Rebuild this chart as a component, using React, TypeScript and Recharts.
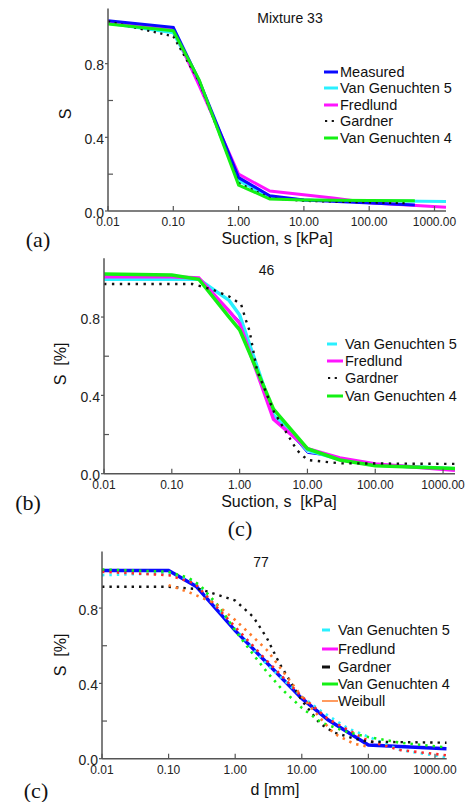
import React from 'react'
import { Line, LineChart, XAxis, YAxis } from 'recharts'

const X_TICKS = [0.01, 0.1, 1, 10, 100, 1000]
const Y_TICKS = [0, 0.2, 0.4, 0.6, 0.8]
const Y_LABELED = [0, 0.4, 0.8]

// (a) Mixture 33 — [suction kPa, S]
const aMeasured = [[0.01, 1.033], [0.1, 0.997], [0.25, 0.705], [1, 0.181], [3, 0.083], [10, 0.06], [500, 0.033]]
const aVG5 = [[0.01, 1.02], [0.1, 0.968], [0.25, 0.7], [1, 0.165], [3, 0.075], [10, 0.06], [100, 0.055], [1500, 0.052]]
const aFredlund = [[0.01, 1.028], [0.1, 0.987], [0.25, 0.68], [1, 0.2], [3, 0.108], [28, 0.07], [100, 0.045], [1500, 0.021]]
const aGardner = [[0.01, 1.03], [0.1, 0.948], [0.25, 0.7], [1, 0.152], [3, 0.07], [10, 0.055], [100, 0.047], [400, 0.042]]
const aVG4 = [[0.01, 1.015], [0.1, 0.979], [0.25, 0.711], [1, 0.141], [3, 0.065], [10, 0.06], [100, 0.057], [500, 0.056]]

// (b) 46
const bMeasured = [[0.01, 1.0], [0.25, 1.0], [1, 0.78], [3.16, 0.3], [10, 0.104], [20, 0.09], [100, 0.045], [1500, 0.02]]
const bVG5 = [[0.01, 0.993], [0.1, 0.993], [0.25, 0.993], [0.7, 0.885], [1, 0.81], [3.16, 0.3], [10, 0.12], [30, 0.072], [100, 0.045], [1500, 0.025]]
const bFredlund = [[0.01, 1.006], [0.1, 1.006], [0.25, 1.0], [0.7, 0.83], [1, 0.768], [3.16, 0.278], [10, 0.128], [30, 0.08], [100, 0.05], [1500, 0.017]]
const bGardner = [[0.01, 0.969], [0.2, 0.969], [0.4, 0.94], [0.7, 0.905], [1.05, 0.865], [1.25, 0.78], [1.4, 0.73], [1.8, 0.53], [3.2, 0.317], [7, 0.12], [10, 0.07], [30, 0.053], [1500, 0.05]]
const bVG4 = [[0.01, 1.02], [0.1, 1.015], [0.25, 0.993], [0.7, 0.8], [1, 0.735], [3.16, 0.33], [10, 0.128], [30, 0.07], [100, 0.041], [1500, 0.026]]

// (c) 77 — [d mm, S]
const cMeasured = [[0.01, 1.0], [0.1, 1.0], [0.26, 0.915], [1, 0.68], [3.16, 0.5], [10, 0.32], [25, 0.205], [100, 0.073], [1500, 0.053]]
const cVG5 = [[0.01, 0.975], [0.1, 0.985], [0.25, 0.94], [1, 0.69], [3, 0.5], [10, 0.33], [20, 0.25], [50, 0.16], [100, 0.117], [300, 0.046], [1500, 0.007]]
const cFredlund = [[0.01, 0.993], [0.1, 0.975], [0.25, 0.93], [1, 0.7], [3, 0.52], [10, 0.33], [25, 0.21], [100, 0.095], [300, 0.046], [1500, 0.018]]
const cGardner = [[0.01, 0.913], [0.1, 0.913], [0.3, 0.9], [1, 0.84], [1.86, 0.754], [3, 0.64], [4.6, 0.507], [10, 0.31], [18.6, 0.188], [30, 0.14], [59, 0.108], [100, 0.09], [1500, 0.085]]
const cVG4 = [[0.01, 1.005], [0.1, 0.993], [0.2, 0.96], [0.3, 0.92], [0.6, 0.8], [1, 0.68], [2, 0.54], [3, 0.46], [5, 0.37], [10, 0.27], [20, 0.19], [50, 0.14], [100, 0.115], [300, 0.085], [1500, 0.06]]
const cWeibull = [[0.1, 0.922], [0.2, 0.885], [0.5, 0.825], [1, 0.737], [3, 0.577], [10, 0.33], [30, 0.135], [60, 0.08], [100, 0.064]]

const SANS = '"Liberation Sans", Arial, sans-serif'
const SERIF = '"Liberation Serif", "Times New Roman", serif'
const W = 471

const pts = (arr: number[][]) => arr.map(([x, s]) => ({ x, s }))

function XTick(props: any) {
  const { x, y, payload } = props
  return (
    <g>
      <line x1={x} x2={x} y1={y} y2={y - 5} stroke="#555" strokeWidth={1.2} />
      <text x={x} y={y + 11} textAnchor="middle" dominantBaseline="central" fontSize={12} fontFamily={SANS} fill="#222">
        {Number(payload.value).toFixed(2)}
      </text>
    </g>
  )
}

function YTick(props: any) {
  const { x, y, payload } = props
  const v = Number(payload.value)
  if (!Y_LABELED.some((t) => Math.abs(t - v) < 1e-6)) {
    return <line x1={x} x2={x + 5} y1={y} y2={y} stroke="#555" strokeWidth={1.2} />
  }
  return (
    <g>
      <line x1={x - 3} x2={x} y1={y} y2={y} stroke="#555" strokeWidth={1.2} />
      <text x={x - 4} y={y + 1.5} textAnchor="end" dominantBaseline="central" fontSize={14} fontFamily={SANS} fill="#222">
        {v.toFixed(1)}
      </text>
    </g>
  )
}

function Txt({ x, y, size, children, serif, rotate }: any) {
  return (
    <div
      style={{
        position: 'absolute',
        left: x,
        top: y,
        transform: `translate(-50%, -50%)${rotate ? ' rotate(-90deg)' : ''}`,
        fontSize: size,
        fontFamily: serif ? SERIF : SANS,
        whiteSpace: 'pre',
        lineHeight: 1,
        color: '#111',
      }}
    >
      {children}
    </div>
  )
}

type Swatch = { label: string; color: string; len: number; width?: number; dots?: boolean }

function Legend({ x, textX, ys, items }: { x: number; textX: number; ys: number[]; items: Swatch[] }) {
  return (
    <>
      {items.map((it, i) => (
        <div key={it.label} style={{ position: 'absolute', left: x, top: ys[i] - 8, height: 16, width: 150 }}>
          <svg width={20} height={16} style={{ position: 'absolute', left: 0, top: 0 }}>
            {it.dots ? (
              <line x1={1} x2={12} y1={8} y2={8} stroke={it.color} strokeWidth={2.2} strokeDasharray="2.2 4.5" />
            ) : (
              <line x1={0} x2={it.len} y1={8} y2={8} stroke={it.color} strokeWidth={it.width ?? 3} />
            )}
          </svg>
          <span
            style={{
              position: 'absolute',
              left: textX - x,
              top: 0,
              lineHeight: '16px',
              fontSize: 14.5,
              fontFamily: SANS,
              color: '#111',
              whiteSpace: 'pre',
            }}
          >
            {it.label}
          </span>
        </div>
      ))}
    </>
  )
}

type Series = { data: number[][]; color: string; width: number; dash?: string }

function Panel({
  top,
  height,
  box,
  series,
}: {
  top: number
  height: number
  box: { left: number; right: number; top: number; bottom: number }
  series: Series[]
}) {
  const yW = 40
  const xH = 30
  const margin = {
    left: box.left - yW,
    right: W - box.right,
    top: box.top - top,
    bottom: top + height - box.bottom - xH,
  }
  return (
    <div style={{ position: 'absolute', left: 0, top }}>
      <LineChart width={W} height={height} margin={margin}>
        <XAxis
          dataKey="x"
          type="number"
          scale="log"
          domain={[0.01, 1500]}
          allowDataOverflow
          ticks={X_TICKS}
          tick={<XTick />}
          tickLine={false}
          tickSize={0}
          tickMargin={0}
          height={xH}
          axisLine={{ stroke: '#555', strokeWidth: 1.5 }}
        />
        <YAxis
          type="number"
          domain={[0, 1.1]}
          ticks={Y_TICKS}
          tick={<YTick />}
          tickLine={false}
          tickSize={0}
          tickMargin={0}
          width={yW}
          allowDataOverflow
          axisLine={{ stroke: '#555', strokeWidth: 1.5 }}
        />
        {series.map((s, i) => (
          <Line
            key={i}
            data={pts(s.data)}
            dataKey="s"
            type="linear"
            stroke={s.color}
            strokeWidth={s.width}
            strokeDasharray={s.dash}
            dot={false}
            activeDot={false}
            isAnimationActive={false}
          />
        ))}
      </LineChart>
    </div>
  )
}

const BLUE = '#0a0aff'
const CYAN = '#2af0ff'
const MAGENTA = '#ff14ff'
const GREEN = '#14f014'
const BLACK = '#111'
const RED = '#ff2a2a'
const ORANGE = '#ff7a2a'
const DOT = '2.4 5'

export default function App() {
  return (
    <div style={{ position: 'absolute', left: 0, top: 0, width: W, height: 802, background: '#fff' }}>
      {/* (a) */}
      <Panel
        top={0}
        height={260}
        box={{ left: 108, right: 446, top: 8.4, bottom: 211 }}
        series={[
          { data: aVG5, color: CYAN, width: 3 },
          { data: aFredlund, color: MAGENTA, width: 3 },
          { data: aMeasured, color: BLUE, width: 3 },
          { data: aGardner, color: BLACK, width: 2.2, dash: '2.2 4.5' },
          { data: aVG4, color: GREEN, width: 3 },
        ]}
      />
      <Txt x={290} y={17.5} size={14}>Mixture 33</Txt>
      <Txt x={66} y={114} size={16} rotate>S</Txt>
      <Txt x={277} y={238.5} size={16}>Suction, s [kPa]</Txt>
      <Txt x={38} y={240} size={22} serif>(a)</Txt>
      <Legend
        x={324}
        textX={340}
        ys={[71.7, 88.3, 105, 121, 137.7]}
        items={[
          { label: 'Measured', color: BLUE, len: 14 },
          { label: 'Van Genuchten 5', color: CYAN, len: 14 },
          { label: 'Fredlund', color: MAGENTA, len: 14 },
          { label: 'Gardner', color: BLACK, len: 12, dots: true },
          { label: 'Van Genuchten 4', color: GREEN, len: 14 },
        ]}
      />

      {/* (b) */}
      <Panel
        top={250}
        height={260}
        box={{ left: 104, right: 455, top: 258.3, bottom: 473.7 }}
        series={[
          { data: bMeasured, color: BLUE, width: 1 },
          { data: bVG5, color: CYAN, width: 3.5 },
          { data: bFredlund, color: MAGENTA, width: 3.5 },
          { data: bVG4, color: GREEN, width: 3.5 },
          { data: bGardner, color: BLACK, width: 2.4, dash: '2.4 5.5' },
        ]}
      />
      <Txt x={266.5} y={270} size={14}>46</Txt>
      <Txt x={61} y={364} size={16} rotate>{'S  [%]'}</Txt>
      <Txt x={279} y={501.5} size={16}>{'Suction, s  [kPa]'}</Txt>
      <Txt x={28} y={502.5} size={22} serif>(b)</Txt>
      <Legend
        x={327}
        textX={345}
        ys={[344.3, 360.5, 378, 395.7]}
        items={[
          { label: 'Van Genuchten 5', color: CYAN, len: 10 },
          { label: 'Fredlund', color: MAGENTA, len: 16 },
          { label: 'Gardner', color: BLACK, len: 12, dots: true },
          { label: 'Van Genuchten 4', color: GREEN, len: 16 },
        ]}
      />

      {/* (c) */}
      <Txt x={240} y={529} size={22} serif>(c)</Txt>
      <Panel
        top={540}
        height={262}
        box={{ left: 102, right: 446.7, top: 551.6, bottom: 758.7 }}
        series={[
          { data: cMeasured, color: BLUE, width: 3.5 },
          { data: cVG5, color: CYAN, width: 2.6, dash: DOT },
          { data: cFredlund, color: RED, width: 2.6, dash: DOT },
          { data: cGardner, color: BLACK, width: 2.4, dash: DOT },
          { data: cVG4, color: GREEN, width: 2.6, dash: DOT },
          { data: cWeibull, color: ORANGE, width: 2.6, dash: DOT },
        ]}
      />
      <Txt x={261} y={562} size={14}>77</Txt>
      <Txt x={61} y={655} size={16} rotate>{'S  [%]'}</Txt>
      <Txt x={275} y={790} size={16}>d [mm]</Txt>
      <Txt x={36} y={791} size={22} serif>(c)</Txt>
      <Legend
        x={322}
        textX={338}
        ys={[630, 649.3, 666.7, 684, 700.7]}
        items={[
          { label: 'Van Genuchten 5', color: CYAN, len: 8 },
          { label: 'Fredlund', color: MAGENTA, len: 16 },
          { label: 'Gardner', color: BLACK, len: 8 },
          { label: 'Van Genuchten 4', color: GREEN, len: 16 },
          { label: 'Weibull', color: ORANGE, len: 16, width: 1.5 },
        ]}
      />
    </div>
  )
}
